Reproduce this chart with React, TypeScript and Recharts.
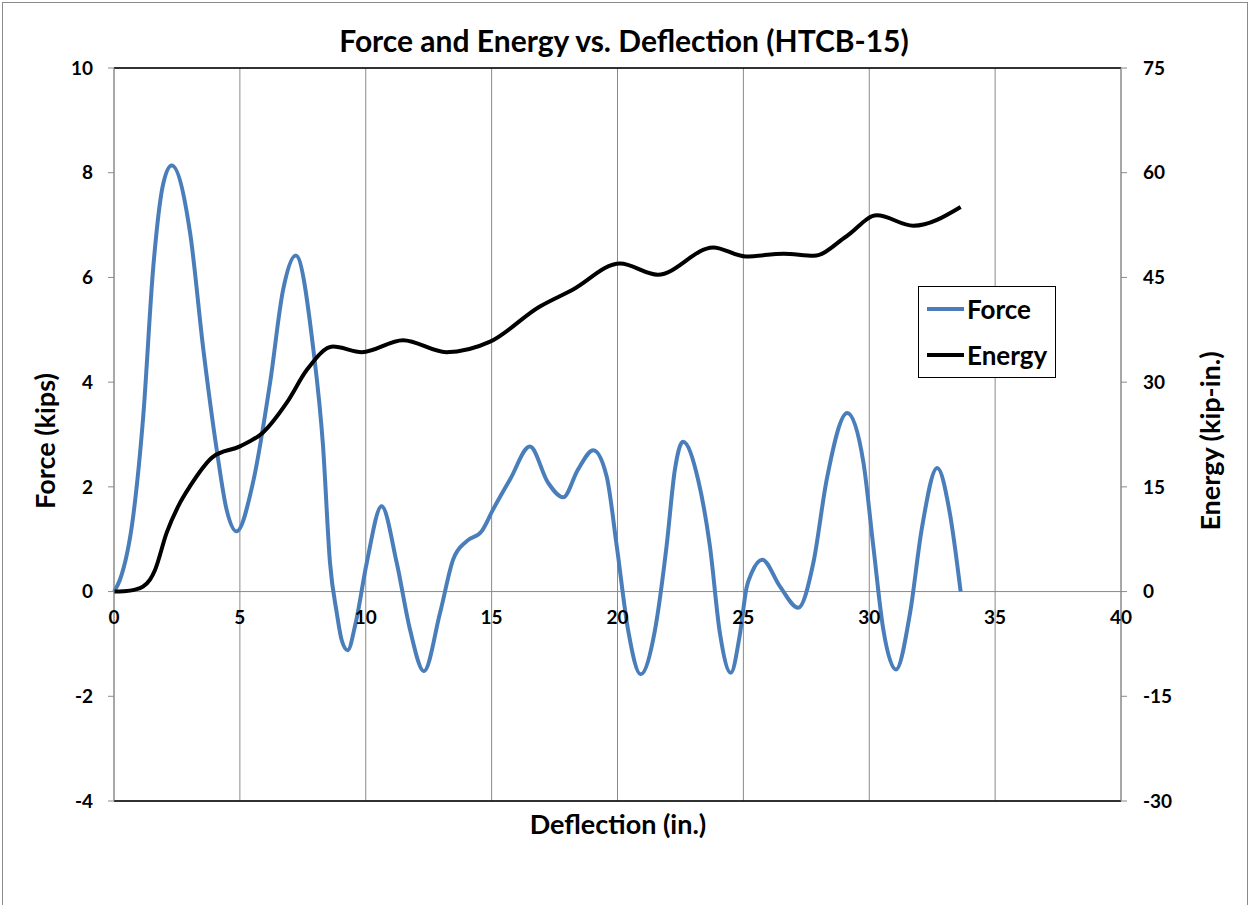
import React from 'react'
import {
  LineChart,
  Line,
  XAxis,
  YAxis,
  CartesianGrid,
  ReferenceLine,
} from 'recharts'

// values
const deflectionForce = [
  0, 0.24, 0.76, 1.16, 1.56, 1.96, 2.29, 3.02, 3.55, 4.08, 4.47, 4.87, 5.52, 6.2, 6.72, 7.22,
  7.92, 8.3, 8.58, 8.85, 9.04, 9.28, 9.6, 10.04, 10.63, 11.23, 11.76, 12.31, 12.95, 13.47, 14.0,
  14.6, 15.06, 15.73, 16.52, 17.24, 17.84, 18.43, 19.04, 19.57, 19.97, 20.42, 20.92, 21.49,
  21.95, 22.28, 22.6, 23.2, 23.67, 24.07, 24.5, 24.85, 25.13, 25.33, 25.75, 26.45, 27.18,
  27.78, 28.31, 29.13, 29.77, 30.16, 30.56, 31.06, 31.62, 32.08, 32.7, 33.2, 33.63,
]
const force = [
  0, 0.23, 1.43, 3.34, 6.2, 7.8, 8.14, 6.86, 4.62, 2.71, 1.57, 1.15, 2.08, 3.99, 5.77, 6.42,
  4.62, 2.8, 0.55, -0.41, -0.92, -1.12, -0.6, 0.55, 1.63, 0.55, -0.73, -1.52, -0.41, 0.61, 0.96,
  1.15, 1.57, 2.14, 2.77, 2.08, 1.8, 2.33, 2.7, 2.2, 0.87, -0.73, -1.58, -0.73,
  0.87, 2.33, 2.86, 2.14, 0.87, -0.8, -1.55, -0.85, 0.08, 0.36, 0.61, 0.1, -0.31,
  0.55, 2.14, 3.41, 2.46, 0.87, -0.73, -1.49, -0.41, 1.18, 2.36, 1.5, 0,
]

const deflectionEnergy = [
  0, 0.37, 0.8, 1.15, 1.43, 1.63, 2.09, 2.62, 3.02, 3.93, 5.0, 5.92, 6.87, 7.67, 8.7, 9.85,
  11.48, 13.2, 14.94, 16.9, 18.2, 20.1, 21.6, 23.8, 25.1, 26.6, 27.8, 29.1, 30.3, 31.75, 33.63,
]
const energy = [
  0, 0.05, 0.25, 0.7, 1.7, 3.1, 8.4, 12.7, 15.1, 19.3, 20.8, 22.8, 27.1, 31.8, 35.1, 34.3,
  36.0, 34.3, 35.8, 40.8, 43.2, 47.0, 45.4, 49.3, 48.0, 48.4, 48.1, 50.9, 53.9, 52.4, 55.1,
]

const xTicks = [0, 5, 10, 15, 20, 25, 30, 35, 40]
const forceTicks = [-4, -2, 0, 2, 4, 6, 8, 10]
const energyTicks = [-30, -15, 0, 15, 30, 45, 60, 75]

const forceData = deflectionForce.map((d, i) => ({ d, force: force[i] }))
const energyData = deflectionEnergy.map((d, i) => ({ d, energy: energy[i] }))

const W = 1250
const H = 905
const MARGIN = { top: 68, right: 69, bottom: 74, left: 54 }
const PLOT_H = H - MARGIN.top - MARGIN.bottom - 30
const FONT = 'Lato, "Open Sans", sans-serif'
const GRID = '#8a8a8a'
const BLUE = '#4a7ebb'

// x labels sit under the y=0 line, not at the plot bottom
const zeroLift = (PLOT_H * (0 - forceTicks[0])) / (forceTicks[forceTicks.length - 1] - forceTicks[0])

function XTick(props: any) {
  const { x, y, payload } = props
  return (
    <text
      x={x}
      y={y - zeroLift + 17}
      textAnchor="middle"
      dominantBaseline="central"
      fontFamily={FONT}
      fontWeight={700}
      fontSize={19}
      fill="#000"
    >
      {payload.value}
    </text>
  )
}

const tickStyle = { fontSize: 19, fontWeight: 700, fill: '#000', fontFamily: FONT }

const axisTitle: React.CSSProperties = {
  position: 'absolute',
  width: 240,
  textAlign: 'center',
  fontFamily: FONT,
  fontWeight: 700,
  fontSize: 27,
  lineHeight: '34px',
  color: '#000',
}

export default function App() {
  return (
    <div style={{ position: 'absolute', left: 0, top: 0, width: W, height: H, overflow: 'hidden', background: '#fff' }}>
      <div
        style={{
          position: 'absolute',
          left: 2,
          top: 2,
          width: 1244,
          height: 960,
          border: '1px solid #8a8a8a',
        }}
      />
      <LineChart width={W} height={H} margin={MARGIN} style={{ position: 'absolute', left: 0, top: 0 }}>
        <CartesianGrid stroke={GRID} strokeWidth={1} />
        <XAxis
          type="number"
          dataKey="d"
          domain={[0, 40]}
          ticks={xTicks}
          height={30}
          axisLine={false}
          tickLine={false}
          tick={<XTick />}
          allowDuplicatedCategory={false}
        />
        <YAxis
          yAxisId="force"
          orientation="left"
          domain={[-4, 10]}
          ticks={forceTicks}
          width={60}
          stroke={GRID}
          tickSize={6}
          tickMargin={15}
          tick={tickStyle}
          interval={0}
        />
        <YAxis
          yAxisId="energy"
          orientation="right"
          domain={[-30, 75]}
          ticks={energyTicks}
          width={60}
          stroke={GRID}
          tickSize={6}
          tickMargin={16}
          tick={tickStyle}
          interval={0}
        />
        <ReferenceLine yAxisId="force" y={0} stroke={GRID} strokeWidth={1} />
        <ReferenceLine yAxisId="force" y={10} stroke="#000" strokeWidth={1.5} />
        <ReferenceLine yAxisId="force" y={-4} stroke="#000" strokeWidth={1.5} />
        <Line
          yAxisId="force"
          data={forceData}
          dataKey="force"
          type="monotone"
          stroke={BLUE}
          strokeWidth={4}
          dot={false}
          isAnimationActive={false}
          name="Force"
        />
        <Line
          yAxisId="energy"
          data={energyData}
          dataKey="energy"
          type="monotone"
          stroke="#000"
          strokeWidth={4}
          dot={false}
          isAnimationActive={false}
          name="Energy"
        />
      </LineChart>

      <div
        style={{
          position: 'absolute',
          left: 0,
          width: W - 2,
          top: 21,
          textAlign: 'center',
          fontFamily: FONT,
          fontWeight: 700,
          fontSize: 30,
          lineHeight: '38px',
          color: '#000',
        }}
      >
        Force and Energy vs. Deflection (HTCB-15)
      </div>
      <div style={{ ...axisTitle, left: 618 - 120, top: 824 - 17 }}>Deflection (in.)</div>
      <div style={{ ...axisTitle, left: 45 - 120, top: 441 - 17, transform: 'rotate(-90deg)' }}>
        Force (kips)
      </div>
      <div style={{ ...axisTitle, left: 1210 - 120, top: 441 - 17, transform: 'rotate(-90deg)' }}>
        Energy (kip-in.)
      </div>

      <div
        style={{
          position: 'absolute',
          left: 918,
          top: 286,
          width: 136,
          height: 90,
          border: '1px solid #000',
          background: '#fff',
          fontFamily: FONT,
          fontWeight: 700,
          fontSize: 26,
        }}
      >
        {[
          { label: 'Force', color: BLUE, cy: 22 },
          { label: 'Energy', color: '#000', cy: 68 },
        ].map((r) => (
          <div key={r.label} style={{ position: 'absolute', left: 8, top: r.cy - 16, height: 32, display: 'flex', alignItems: 'center' }}>
            <span style={{ display: 'inline-block', width: 37, height: 4, background: r.color, marginRight: 3 }} />
            <span style={{ lineHeight: '32px' }}>{r.label}</span>
          </div>
        ))}
      </div>
    </div>
  )
}
